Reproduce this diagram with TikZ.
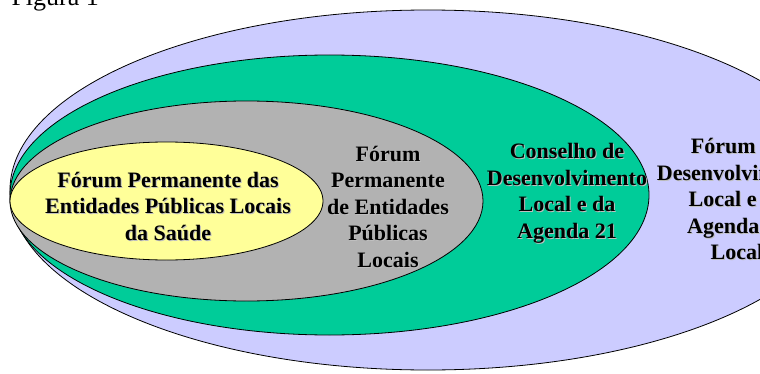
\documentclass[tikz,border=0pt]{standalone}
\usepackage{fontspec}
\setmainfont{Liberation Serif}
\definecolor{lil}{RGB}{204,204,255}
\definecolor{grn}{RGB}{0,204,153}
\definecolor{gry}{RGB}{178,178,178}
\definecolor{ylw}{RGB}{255,255,153}
\tikzset{
ring/.style={draw=black,line width=0.8pt},
lbl/.style={align=center,inner sep=0pt,font=\fontsize{22}{26.5}\selectfont\bfseries},
shd/.style={lbl,text=black!25,xshift=1pt,yshift=-1pt},
}

\begin{document}
\begin{tikzpicture}[x=1pt,y=1pt]
\useasboundingbox (0,0) rectangle (760,373);
\clip (0,0) rectangle (760,373);
\coordinate (c1) at (428,183);
\coordinate (c2) at (329.5,178);
\coordinate (c3) at (246.5,172);
\coordinate (c4) at (166.5,172);
\fill[lil,ring] (c1) ellipse [x radius=418,y radius=180];
\fill[grn,ring] (c2) ellipse [x radius=319.5,y radius=140];
\fill[gry,ring] (c3) ellipse [x radius=236.5,y radius=100];
\fill[ylw,ring] (c4) ellipse [x radius=156.5,y radius=59];
\node[anchor=base west,font=\fontsize{26}{30}\selectfont] (fig) at (8,367) {Figura 1};
\node[shd] at (168,167) {Fórum Permanente das\\Entidades Públicas Locais\\da Saúde};
\node[lbl] (t1) at (168,167) {Fórum Permanente das\\Entidades Públicas Locais\\da Saúde};
\node[shd] at (388,166.5) {Fórum\\Permanente\\de Entidades\\Públicas\\Locais};
\node[lbl] (t2) at (388,166.5) {Fórum\\Permanente\\de Entidades\\Públicas\\Locais};
\node[shd] at (567,179.5) {Conselho de\\Desenvolvimento\\Local e da\\Agenda 21};
\node[lbl] (t3) at (567,179.5) {Conselho de\\Desenvolvimento\\Local e da\\Agenda 21};
\node[shd] at (737,174) {Fórum de\\Desenvolvimento\\Local e da\\Agenda 21\\Local};
\node[lbl] (t4) at (737,174) {Fórum de\\Desenvolvimento\\Local e da\\Agenda 21\\Local};
\end{tikzpicture}
\end{document}
